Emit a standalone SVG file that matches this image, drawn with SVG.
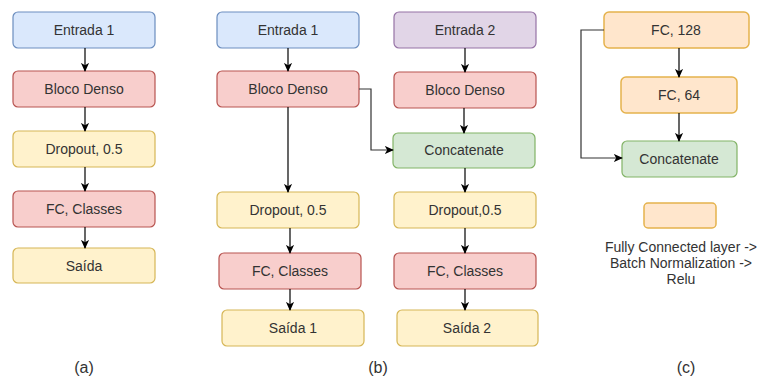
<svg xmlns="http://www.w3.org/2000/svg" width="758" height="378" viewBox="0 0 758 378">
  <style>
    .box { stroke-width: 1.2; }
    .blue { fill: #dae8fc; stroke: #6c8ebf; }
    .red { fill: #f8cecc; stroke: #b85450; }
    .yellow { fill: #fff2cc; stroke: #d6b656; }
    .purple { fill: #e1d5e7; stroke: #9673a6; }
    .green { fill: #d5e8d4; stroke: #82b366; }
    .orange { fill: #ffe6cc; stroke: #e5b24c; stroke-width: 1.5; }
    text { font-family: "Liberation Sans", Arial, sans-serif; font-size: 14px; fill: #333333; text-anchor: middle; }
    .cap { font-size: 16px; }
    .edge { fill: none; stroke: #000000; stroke-width: 1.2; marker-end: url(#arrow); }
    .side { stroke: #333333; }
  </style>
  <defs>
    <marker id="arrow" markerUnits="userSpaceOnUse" viewBox="0 0 10 10" refX="9" refY="5" markerWidth="9" markerHeight="9" orient="auto">
      <path d="M0,0.5 L10,5 L0,9.5 L2.5,5 Z" fill="#000000"/>
    </marker>
  </defs>

  <rect width="758" height="378" fill="#ffffff"/>

  <!-- (a) single input -->
  <g id="a-entrada1"><rect class="box blue" x="13" y="12" width="142" height="36" rx="5"/><text x="84" y="35">Entrada 1</text></g>
  <g id="a-bloco"><rect class="box red" x="13" y="71" width="142" height="36" rx="5"/><text x="84" y="94">Bloco Denso</text></g>
  <g id="a-dropout"><rect class="box yellow" x="13" y="131" width="142" height="36" rx="5"/><text x="84" y="154">Dropout, 0.5</text></g>
  <g id="a-fc"><rect class="box red" x="13" y="191" width="142" height="36" rx="5"/><text x="84" y="214">FC, Classes</text></g>
  <g id="a-saida"><rect class="box yellow" x="13" y="248" width="142" height="35" rx="5"/><text x="84" y="271">Saída</text></g>
  <text class="cap" x="84" y="373">(a)</text>

  <!-- (b) two inputs -->
  <g id="b-entrada1"><rect class="box blue" x="217" y="12" width="142" height="36" rx="5"/><text x="288" y="35">Entrada 1</text></g>
  <g id="b-bloco1"><rect class="box red" x="217" y="71" width="142" height="36" rx="5"/><text x="288" y="94">Bloco Denso</text></g>
  <g id="b-dropout1"><rect class="box yellow" x="217" y="192" width="142" height="36" rx="5"/><text x="288" y="215">Dropout, 0.5</text></g>
  <g id="b-fc1"><rect class="box red" x="219" y="253" width="142" height="36" rx="5"/><text x="290" y="276">FC, Classes</text></g>
  <g id="b-saida1"><rect class="box yellow" x="222" y="310" width="142" height="36" rx="5"/><text x="293" y="333">Saída 1</text></g>

  <g id="b-entrada2"><rect class="box purple" x="394" y="12" width="142" height="36" rx="5"/><text x="465" y="35">Entrada 2</text></g>
  <g id="b-bloco2"><rect class="box red" x="394" y="72" width="142" height="36" rx="5"/><text x="465" y="95">Bloco Denso</text></g>
  <g id="b-concat"><rect class="box green" x="393" y="133" width="142" height="35" rx="5"/><text x="464" y="155">Concatenate</text></g>
  <g id="b-dropout2"><rect class="box yellow" x="394" y="192" width="142" height="36" rx="5"/><text x="465" y="215">Dropout,0.5</text></g>
  <g id="b-fc2"><rect class="box red" x="394" y="253" width="142" height="36" rx="5"/><text x="465" y="276">FC, Classes</text></g>
  <g id="b-saida2"><rect class="box yellow" x="397" y="310" width="141" height="36" rx="5"/><text x="467" y="333">Saída 2</text></g>
  <text class="cap" x="378" y="373">(b)</text>

  <!-- (c) FC block detail -->
  <g id="c-fc128"><rect class="box orange" x="604" y="12" width="145" height="36" rx="5"/><text x="676" y="35">FC, 128</text></g>
  <g id="c-fc64"><rect class="box orange" x="621" y="77" width="116" height="36" rx="5"/><text x="679" y="100">FC, 64</text></g>
  <g id="c-concat"><rect class="box green" x="622" y="141" width="115" height="36" rx="5"/><text x="679" y="164">Concatenate</text></g>
  <g id="c-legend"><rect class="box orange" x="644" y="203" width="72" height="25" rx="4"/>
    <text x="681" y="252">Fully Connected layer -&gt;</text>
    <text x="681" y="268">Batch Normalization -&gt;</text>
    <text x="681" y="284">Relu</text>
  </g>
  <text class="cap" x="686" y="373">(c)</text>

  <!-- connectors -->
  <g id="connectors">
    <path class="edge" d="M85,48 V71"/>
    <path class="edge" d="M85,107 V131"/>
    <path class="edge" d="M85,167 V191"/>
    <path class="edge" d="M85,227 V248"/>

    <path class="edge" d="M288,48 V71"/>
    <path class="edge" d="M288,107 V192"/>
    <path class="edge" d="M290,228 V253"/>
    <path class="edge" d="M290,289 V310"/>
    <path class="edge side" d="M359,89 H371 V150 H393"/>

    <path class="edge" d="M465,48 V72"/>
    <path class="edge" d="M464,108 V133"/>
    <path class="edge" d="M465,168 V192"/>
    <path class="edge" d="M465,228 V253"/>
    <path class="edge" d="M465,289 V310"/>

    <path class="edge" d="M679,48 V77"/>
    <path class="edge" d="M679,113 V141"/>
    <path class="edge side" d="M604,30 H581 V158 H622"/>
  </g>
</svg>
